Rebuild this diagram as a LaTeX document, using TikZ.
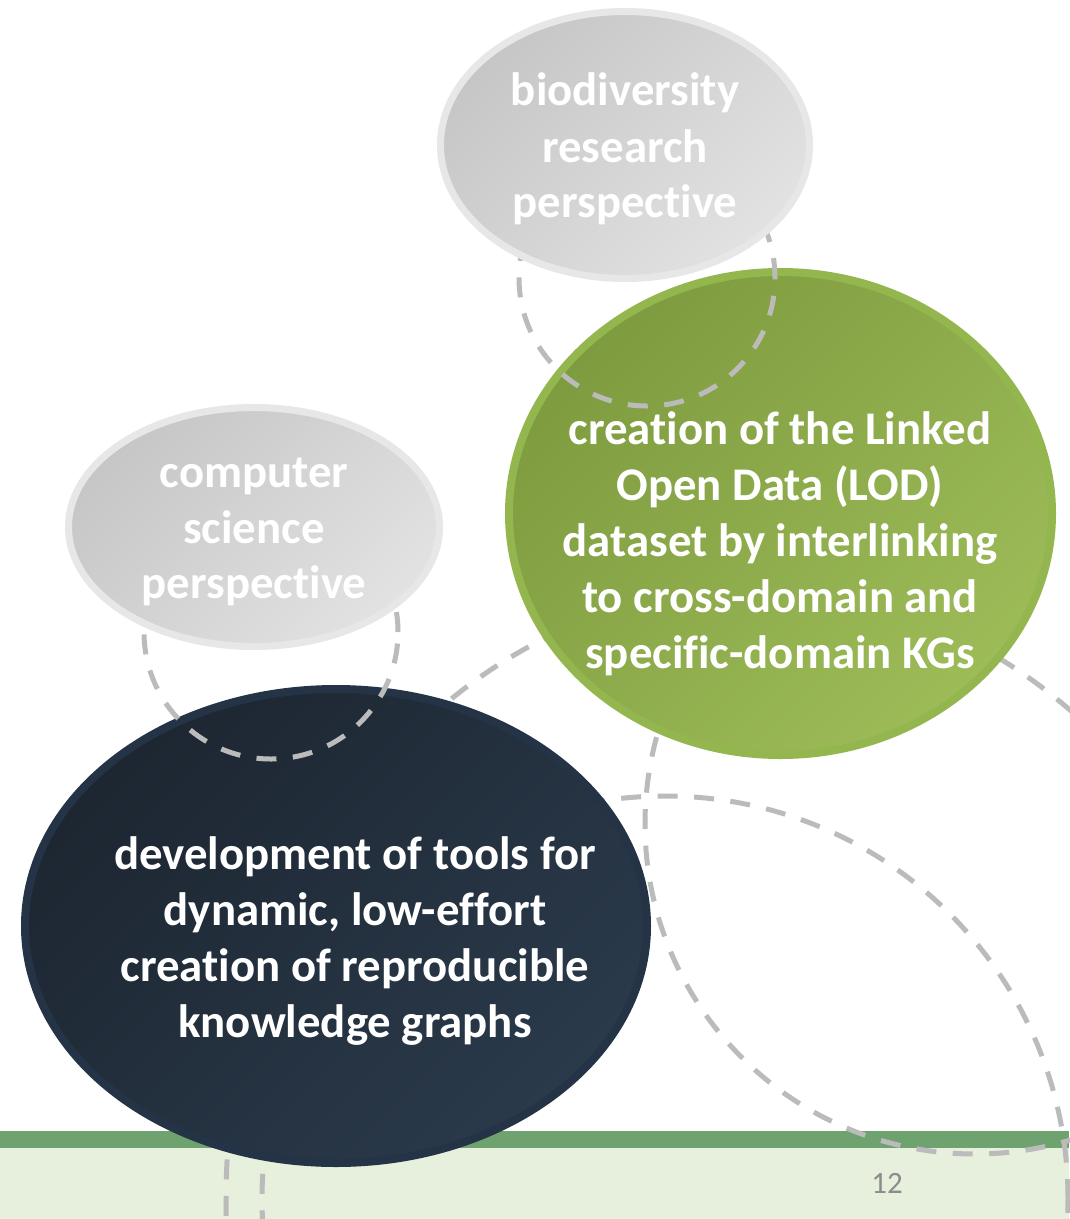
\documentclass[tikz,border=0pt]{standalone}
\usepackage{fontspec}
\setmainfont{Carlito}[Ligatures=NoCommon]
\usetikzlibrary{shapes.geometric}
\definecolor{dashgray}{RGB}{187,187,187}
\definecolor{footbar}{RGB}{110,162,111}
\definecolor{footlight}{RGB}{230,240,220}
\definecolor{greenA}{RGB}{126,155,63}
\definecolor{greenB}{RGB}{157,188,88}
\definecolor{greenE}{RGB}{148,182,78}
\definecolor{darkA}{RGB}{29,38,49}
\definecolor{darkB}{RGB}{42,58,75}
\definecolor{darkE}{RGB}{36,52,70}
\definecolor{grayA}{RGB}{198,198,198}
\definecolor{grayB}{RGB}{226,226,226}
\definecolor{grayE}{RGB}{231,231,231}
\definecolor{numgray}{RGB}{140,140,140}
\begin{document}
\begin{tikzpicture}[x=1pt,y=-1pt,
  dashcirc/.style={draw=dashgray, line width=5pt, dash pattern=on 20pt off 16.5pt},
  greenell/.style={ellipse, inner sep=0pt, shade, left color=greenA, right color=greenB, shading angle=45, draw=greenE, line width=8pt},
  darkell/.style={ellipse, inner sep=0pt, shade, left color=darkA, right color=darkB, shading angle=45, draw=darkE, line width=8pt},
  grayell/.style={ellipse, inner sep=0pt, shade, left color=grayA, right color=grayB, shading angle=45, draw=grayE, line width=7pt},
  txt/.style={font=\bfseries\fontsize{46.8}{56}\selectfont, text=white, anchor=base, inner sep=0pt},
  numtxt/.style={font=\fontsize{31}{36}\selectfont, text=numgray, anchor=base, inner sep=0pt}]
\useasboundingbox (0,0) rectangle (1069,1219);
\fill[white] (0,0) rectangle (1069,1219);
% footer
\fill[footlight] (0,1148) rectangle (1069,1219);
\fill[footbar] (0,1131) rectangle (1069,1148);
% large dashed circles (behind the big ellipses)
\draw[dashcirc] (754,1200) ellipse [x radius=528pt, y radius=611.5pt];
\draw[dashcirc] (665,1199) circle [radius=403pt];
\draw[dashcirc] (975,824) circle [radius=330pt];
% big ellipses
\node[darkell, minimum width=622pt, minimum height=474pt] (dark) at (336,926) {};
\node[greenell, minimum width=543pt, minimum height=483pt] (green) at (780.5,513.5) {};
% small dashed circles
\draw[dashcirc] (647,278) circle [radius=128pt];
\draw[dashcirc] (271,632) circle [radius=127pt];
% gray ellipses
\node[grayell, minimum width=369pt, minimum height=267pt] (bio) at (625,145) {};
\node[grayell, minimum width=371pt, minimum height=239pt] (cs) at (254,527) {};
% texts
\node[txt] (bio1) at (625,105) {biodiversity};
\node[txt] (bio2) at (625,162) {research};
\node[txt] (bio3) at (625,217) {perspective};
\node[txt] (cs1) at (254,487) {computer};
\node[txt] (cs2) at (254,543) {science};
\node[txt] (cs3) at (254,598) {perspective};
\node[txt] (g1) at (780,444) {creation of the Linked};
\node[txt] (g2) at (780,500) {Open Data (LOD)};
\node[txt] (g3) at (780,556) {dataset by interlinking};
\node[txt] (g4) at (780,612) {to cross-domain and};
\node[txt] (g5) at (780,668) {specific-domain KGs};
\node[txt] (d1) at (355,869) {development of tools for};
\node[txt] (d2) at (355,925) {dynamic, low-effort};
\node[txt] (d3) at (355,981) {creation of reproducible};
\node[txt] (d4) at (355,1037) {knowledge graphs};
\node[numtxt] (page) at (887,1193) {12};
\end{tikzpicture}
\end{document}
